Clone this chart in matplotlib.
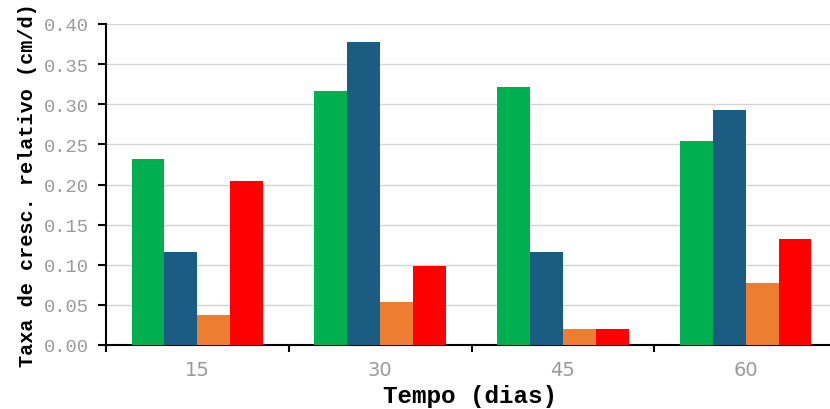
import matplotlib
matplotlib.use("Agg")
import matplotlib.pyplot as plt
import numpy as np
from matplotlib.ticker import FixedLocator, FixedFormatter

categories = ["15", "30", "45", "60"]
serie_verde = [0.232, 0.316, 0.321, 0.254]
serie_azul = [0.116, 0.377, 0.116, 0.293]
serie_laranja = [0.038, 0.054, 0.020, 0.077]
serie_vermelha = [0.204, 0.099, 0.020, 0.132]
series = [serie_verde, serie_azul, serie_laranja, serie_vermelha]
colors = ["#00B050", "#1B5D82", "#ED7D31", "#FF0000"]
yticks = [0.00, 0.05, 0.10, 0.15, 0.20, 0.25, 0.30, 0.35, 0.40]

W, H = 830, 410
fig = plt.figure(figsize=(W / 100, H / 100), dpi=100)
left, right, top, bottom = 106, 837, 25, 346
ax = fig.add_axes([left / W, 1 - bottom / H, (right - left) / W, (bottom - top) / H])

x = np.arange(len(categories)) + 0.5
bw = 0.18
for i, (vals, c) in enumerate(zip(series, colors)):
    ax.bar(x + (i - 1.5) * bw, vals, width=bw, color=c, zorder=3)

ax.set_xlim(0, 4)
ax.set_ylim(0, 0.40)
ax.set_yticks(yticks)
ax.set_yticklabels([f"{v:.2f}" for v in yticks], family="Liberation Mono",
                   fontsize=13.5, color="#9a9a9a")
ax.yaxis.grid(True, color="#d4d4d4", linewidth=1.0, zorder=0)
ax.set_axisbelow(True)

ax.xaxis.set_major_locator(FixedLocator([0, 1, 2, 3, 4]))
ax.xaxis.set_major_formatter(FixedFormatter(["", "", "", "", ""]))
ax.xaxis.set_minor_locator(FixedLocator(list(x)))
ax.xaxis.set_minor_formatter(FixedFormatter(categories))
ax.tick_params(axis="x", which="minor", length=0, pad=11, labelsize=14,
               labelcolor="#9a9a9a")
ax.tick_params(axis="x", which="major", length=5, width=1.5, direction="out", color="black")
ax.tick_params(axis="y", length=6, width=1.5, direction="out", color="black", pad=6)
for lbl in ax.get_xticklabels(minor=True):
    lbl.set_family("DejaVu Sans")

for s in ["top", "right"]:
    ax.spines[s].set_visible(False)
for s in ["left", "bottom"]:
    ax.spines[s].set_linewidth(1.5)
    ax.spines[s].set_color("black")

ax.set_ylabel("Taxa de cresc. relativo (cm/d)", family="Liberation Mono",
              fontweight="bold", fontsize=14.5, labelpad=5)
fig.text(470 / W, 1 - 397 / H, "Tempo (dias)", family="Liberation Mono",
         fontweight="bold", fontsize=17.5, ha="center", va="center")

fig.savefig("out.png", dpi=100)
